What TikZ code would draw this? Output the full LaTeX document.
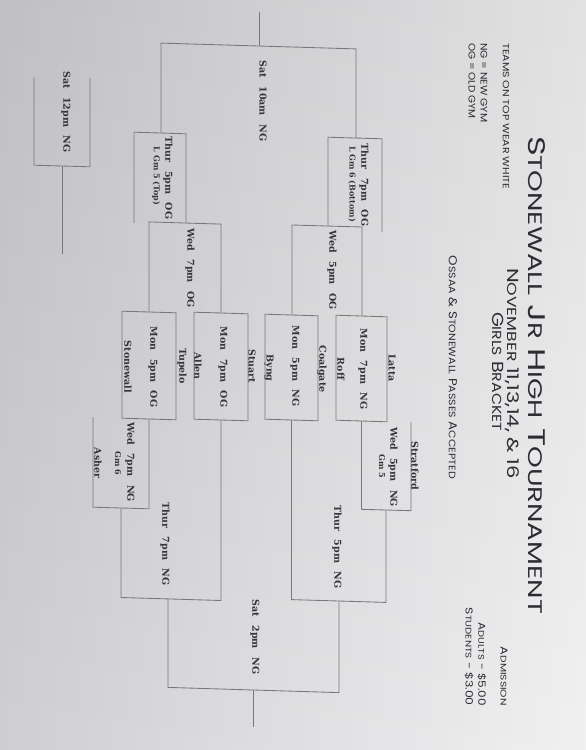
\documentclass[tikz,border=0pt]{standalone}
\usepackage{fontspec}
\usepackage{graphicx}
\setmainfont{DejaVu Serif}
\newfontfamily\hdr{Poppins}
\newcommand{\scs}[1]{\scalebox{0.82}{#1}}
\newcommand{\gs}{\hspace{0.9em}}
\newcommand{\fitw}[2]{\resizebox{#1}{\height}{#2}}
\definecolor{linec}{RGB}{120,120,124}
\definecolor{txt}{RGB}{52,52,60}
\definecolor{hdc}{RGB}{44,44,50}
\definecolor{bgl}{RGB}{204,204,208}
\definecolor{bgr}{RGB}{240,240,241}
\begin{document}
\begin{tikzpicture}[x=1pt,y=-1pt,
  br/.style={draw=linec, line width=0.85pt, line join=miter},
  game/.style={rotate=-90, font=\bfseries\fontsize{9.5}{11}\selectfont, text=txt, inner sep=0pt, align=center},
  sub/.style={rotate=-90, font=\bfseries\fontsize{8}{9}\selectfont, text=txt, inner sep=0pt},
  hd/.style={rotate=-90, font=\hdr, text=hdc, inner sep=0pt}
]
\useasboundingbox (0,0) rectangle (586,750);
\shade[left color=bgl, right color=bgr] (0,0) rectangle (586,750);
\shade[top color=black, bottom color=white, opacity=0.06] (0,0) rectangle (586,750);

% ---------- consolation side (top) ----------
% Sat 10am NG
\draw[br] (161,133) -- (161,43.1) -- (356,48.9) -- (356,138);
\draw[br] (259,46) -- (259,12);
% Thur 5pm OG
\draw[br] (134,223) -- (134,132.2) -- (186,133.8) -- (186,223);
% Wed 7pm OG
\draw[br] (149,312) -- (149,221.9) -- (221,224.1) -- (221,313);
% Thur 7pm OG
\draw[br] (328,226) -- (328,137.2) -- (382,138.8) -- (382,232);
% Wed 5pm OG
\draw[br] (292,315) -- (292,225) -- (362,227) -- (362,316);
% Monday boxes
\draw[br] (122,311.2) -- (176,312.8) -- (176,419.8) -- (122,418.2) -- cycle;
\draw[br] (194,312.2) -- (248,313.8) -- (248,420.8) -- (194,419.2) -- cycle;
\draw[br] (265,314.2) -- (318,315.8) -- (318,420.8) -- (265,419.2) -- cycle;
\draw[br] (336,315.2) -- (387,316.8) -- (387,421.8) -- (336,420.2) -- cycle;
% ---------- championship side (bottom) ----------
% Wed 5pm NG Gm 5
\draw[br] (361.5,421) -- (361.5,509.3) -- (411,510.7) -- (411,422);
% Thur 5pm NG
\draw[br] (291.5,420) -- (291.5,599.6) -- (386,602.4) -- (386,510);
% Wed 7pm NG Gm 6
\draw[br] (93,417) -- (93,507.2) -- (149,508.8) -- (149,419);
% Thur 7pm NG
\draw[br] (121,508) -- (121,597.5) -- (221,600.5) -- (221,420);
% Sat 2pm NG
\draw[br] (168,599) -- (168,687.4) -- (339,692.6) -- (339,601);
\draw[br] (253,690) -- (253,727);
% Sat 12pm NG
\draw[br] (34,77) -- (34,165.2) -- (90,166.8) -- (90,78);
\draw[br] (62,166) -- (62,254);

% ---------- game labels ----------
\node[game] (s10) at (263,101) {Sat\gs 10am\gs NG};
\node[game] (s12) at (66,112) {Sat\gs 12pm\gs NG};
\node[game] (t5o) at (168,178) {Thur\gs 5pm\gs OG};
\node[sub]  (t5os) at (156,176) {L Gm 5 (Top)};
\node[game] (t7o) at (364,185) {Thur\gs 7pm\gs OG};
\node[sub]  (t7os) at (352,184) {L Gm 6 (Bottom)};
\node[game] (w7o) at (190,268) {Wed\gs 7pm\gs OG};
\node[game] (w5o) at (332,270) {Wed\gs 5pm\gs OG};
\node[game] (m5o) at (153,367) {Mon\gs 5pm\gs OG};
\node[game] (m7o) at (223,367) {Mon\gs 7pm\gs OG};
\node[game] (m5n) at (295,366) {Mon\gs 5pm\gs NG};
\node[game] (m7n) at (363,369) {Mon\gs 7pm\gs NG};
\node[game] (w5n) at (393,467) {Wed\gs 5pm\gs NG};
\node[sub]  (w5ns) at (382,466) {Gm 5};
\node[game] (w7n) at (130,462) {Wed\gs 7pm\gs NG};
\node[sub]  (w7ns) at (118,463) {Gm 6};
\node[game] (t5n) at (337,547) {Thur\gs 5pm\gs NG};
\node[game] (t7n) at (165,544) {Thur\gs 7pm\gs NG};
\node[game] (s2)  at (255,637) {Sat\gs 2pm\gs NG};
% ---------- teams ----------
\node[game] (stonewall) at (128,367) {Stonewall};
\node[game] (tupelo) at (182,366) {Tupelo};
\node[game] (allen) at (198,366) {Allen};
\node[game] (stuart) at (252,366) {Stuart};
\node[game] (byng) at (269,368) {Byng};
\node[game] (coalgate) at (322,369) {Coalgate};
\node[game] (roff) at (341,369) {Roff};
\node[game] (latta) at (392,368) {Latta};
\node[game] (stratford) at (415,466) {Stratford};
\node[game] (asher) at (98,463) {Asher};

% ---------- header ----------
\node[hd, font=\hdr\fontsize{24}{25}\selectfont] (title) at (537,375)
  {\fitw{478pt}{S\scs{TONEWALL} J\scs{R} H\scs{IGH} T\scs{OURNAMENT}}};
\node[hd, font=\hdr\fontsize{16}{17}\selectfont] (date) at (512,373.5)
  {\fitw{211pt}{N\scs{OVEMBER} 11,13,14, \& 16}};
\node[hd, font=\hdr\fontsize{16}{17}\selectfont] (girls) at (498,371.5)
  {\fitw{119pt}{G\scs{IRLS} B\scs{RACKET}}};
\node[hd, font=\hdr\fontsize{11.5}{12}\selectfont] (ossaa) at (453,367.5)
  {\fitw{223pt}{O\scs{SSAA} \& S\scs{TONEWALL} P\scs{ASSES} A\scs{CCEPTED}}};
\node[hd, font=\hdr\fontsize{9}{10}\selectfont, anchor=west] (teams) at (506,43)
  {\fitw{146pt}{TEAMS ON TOP WEAR WHITE}};
\node[hd, font=\hdr\fontsize{9.5}{10}\selectfont, anchor=west] (ng) at (484,43)
  {\fitw{79pt}{NG = NEW GYM}};
\node[hd, font=\hdr\fontsize{9.5}{10}\selectfont, anchor=west] (og) at (472,43)
  {\fitw{75pt}{OG = OLD GYM}};
\node[hd, font=\hdr\fontsize{10}{12}\selectfont, anchor=east] (adm) at (504,706)
  {\fitw{59pt}{A\scs{DMISSION}}};
\node[hd, font=\hdr\fontsize{10}{12}\selectfont, anchor=east] (adults) at (482,706)
  {\fitw{83pt}{A\scs{DULTS} - \$5.00}};
\node[hd, font=\hdr\fontsize{10}{12}\selectfont, anchor=east] (students) at (469,706)
  {\fitw{98pt}{S\scs{TUDENTS} - \$3.00}};
\end{tikzpicture}
\end{document}
